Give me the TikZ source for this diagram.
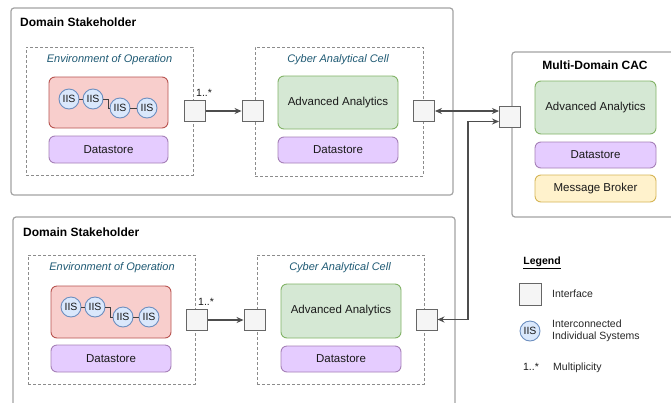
\documentclass[tikz,border=0pt]{standalone}
\usepackage{fontspec}
\setmainfont{Liberation Sans}
\usetikzlibrary{arrows.meta,calc}

\definecolor{frameGray}{HTML}{A3A3A3}
\definecolor{dashGray}{HTML}{8C8C8C}
\definecolor{ifaceFill}{HTML}{F5F5F5}
\definecolor{ifaceLine}{HTML}{666666}
\definecolor{redFill}{HTML}{F8CECC}
\definecolor{redLine}{HTML}{B85450}
\definecolor{greenFill}{HTML}{D5E8D4}
\definecolor{greenLine}{HTML}{82B366}
\definecolor{purpleFill}{HTML}{E5CCFF}
\definecolor{purpleLine}{HTML}{A680B8}
\definecolor{yellowFill}{HTML}{FFF2CC}
\definecolor{yellowLine}{HTML}{D6B656}
\definecolor{blueFill}{HTML}{DAE8FC}
\definecolor{blueLine}{HTML}{6C8EBF}
\definecolor{labelTeal}{HTML}{1F5A74}
\definecolor{wireGray}{HTML}{4D4D4D}

\tikzset{
  outerbox/.style={draw=frameGray, line width=1.2pt, rounded corners=3pt, fill=white, inner sep=0pt},
  groupbox/.style={draw=dashGray, line width=0.8pt, dash pattern=on 3pt off 2pt, inner sep=0pt},
  card/.style={rounded corners=6pt, line width=0.9pt, inner sep=0pt, text=black!90,
    font=\fontsize{11.5}{13.5}\selectfont},
  redcard/.style={card, draw=redLine, fill=redFill},
  greencard/.style={card, draw=greenLine, fill=greenFill},
  purplecard/.style={card, draw=purpleLine, fill=purpleFill},
  yellowcard/.style={card, draw=yellowLine, fill=yellowFill},
  iface/.style={draw=ifaceLine, fill=ifaceFill, line width=0.9pt, minimum size=21pt, inner sep=0pt},
  iis/.style={circle, draw=blueLine, fill=blueFill, line width=0.9pt, minimum size=20pt, inner sep=0pt,
    text=black!90, font=\fontsize{10.5}{12}\selectfont},
  titletext/.style={font=\bfseries\fontsize{12}{14}\selectfont, inner sep=0pt},
  grouptext/.style={font=\itshape\fontsize{11}{13}\selectfont, text=labelTeal, inner sep=0pt},
  plaintext/.style={font=\fontsize{10.5}{12.5}\selectfont, inner sep=0pt, text=black!85},
  multtext/.style={font=\fontsize{10.5}{12}\selectfont, inner sep=0pt, text=black!90},
  link/.style={draw=wireGray, line width=1.4pt},
  wiretip/.tip={Stealth[length=7pt,width=6pt]},
  iislink/.style={draw=black!75, line width=0.8pt}
}

\begin{document}
\begin{tikzpicture}[x=1pt,y=-1pt]
\useasboundingbox (0,0) rectangle (671,402);
\clip (0,0) rectangle (671,402);

% ---------------- upper domain stakeholder ----------------
\node[outerbox, minimum width=442pt, minimum height=187pt] (ds1) at (232,101.5) {};
\node[titletext, anchor=west] (ds1t) at (20,22.5) {Domain Stakeholder};

\node[groupbox, minimum width=167pt, minimum height=128pt] (env1) at (109.5,111) {};
\node[grouptext] (env1t) at (109.5,60) {Environment of Operation};
\node[redcard, minimum width=119pt, minimum height=51pt] (red1) at (108.5,102.5) {};
\node[iis] (a1) at (69,99) {IIS};
\node[iis] (a2) at (93,99) {IIS};
\node[iis] (a3) at (120,108) {IIS};
\node[iis] (a4) at (147,108) {IIS};
\draw[iislink] (a1) -- (a2);
\draw[iislink] (a2.east) -- ++(5,0) |- (a3.west);
\draw[iislink] (a3) -- (a4);
\node[purplecard, minimum width=119pt, minimum height=27pt] (eds1) at (108.5,149.5) {Datastore};

\node[groupbox, minimum width=168pt, minimum height=129pt] (cac1) at (339,111.5) {};
\node[grouptext] (cac1t) at (338,60) {Cyber Analytical Cell};
\node[greencard, minimum width=120pt, minimum height=53pt] (aa1) at (338,102.5) {Advanced Analytics};
\node[purplecard, minimum width=120pt, minimum height=26pt] (cds1) at (338,150) {Datastore};

% interfaces sit on top of the dashed group borders
\node[iface] (ia1) at (195,111) {};
\node[multtext, anchor=south west] (m1) at (196,96.5) {1..*};
\node[iface] (ib1) at (252.5,111) {};
\node[iface] (ic1) at (424,111) {};

% ---------------- multi-domain CAC ----------------
\node[outerbox, minimum width=168pt, minimum height=165pt] (md) at (596,134.5) {};
\node[titletext] (mdt) at (595,65) {Multi-Domain CAC};
\node[greencard, minimum width=121pt, minimum height=53pt] (mdaa) at (595.5,107.5) {Advanced Analytics};
\node[purplecard, minimum width=121pt, minimum height=26pt] (mdds) at (595.5,155) {Datastore};
\node[yellowcard, minimum width=121pt, minimum height=27pt] (mdmb) at (595.5,188.5) {Message Broker};
\node[iface] (mdi) at (509.5,116.5) {};
\coordinate (mdin1) at (499,111);
\coordinate (mdin2) at (499,121.5);
\coordinate (bend) at (468,121.5);

% ---------------- lower domain stakeholder ----------------
\node[outerbox, minimum width=442pt, minimum height=193pt] (ds2) at (234,313.5) {};
\node[titletext, anchor=west] (ds2t) at (23,232) {Domain Stakeholder};

\node[groupbox, minimum width=167pt, minimum height=129pt] (env2) at (111.5,319.5) {};
\node[grouptext] (env2t) at (112,268) {Environment of Operation};
\node[redcard, minimum width=120pt, minimum height=52pt] (red2) at (111,312) {};
\node[iis] (b1) at (71,307) {IIS};
\node[iis] (b2) at (95,307) {IIS};
\node[iis] (b3) at (123,317) {IIS};
\node[iis] (b4) at (149,317) {IIS};
\draw[iislink] (b1) -- (b2);
\draw[iislink] (b2.east) -- ++(5,0) |- (b3.west);
\draw[iislink] (b3) -- (b4);
\node[purplecard, minimum width=120pt, minimum height=27pt] (eds2) at (111,358.5) {Datastore};

\node[groupbox, minimum width=167pt, minimum height=129pt] (cac2) at (340.5,319.5) {};
\node[grouptext] (cac2t) at (340,268) {Cyber Analytical Cell};
\node[greencard, minimum width=120pt, minimum height=54pt] (aa2) at (341,311) {Advanced Analytics};
\node[purplecard, minimum width=120pt, minimum height=26pt] (cds2) at (341,359) {Datastore};

\node[iface] (ia2) at (197,320) {};
\node[multtext, anchor=south west] (m2) at (198,305.5) {1..*};
\node[iface] (ib2) at (254.5,319.5) {};
\node[iface] (ic2) at (426.5,319.5) {};

% ---------------- connectors ----------------
\draw[link, -{wiretip}] (ia1.east) -- (ib1.west);
\draw[link, -{wiretip}] (ia2.east) -- (ib2.west |- ia2.east);
\draw[link, {wiretip}-{wiretip}] (ic1.east) -- (mdin1);
\draw[link, {wiretip}-{wiretip}] (ic2.east) -| (bend) -- (mdin2);

% ---------------- legend ----------------
\node[font=\bfseries\fontsize{10.5}{12.5}\selectfont, inner sep=0pt] (lg) at (542,263) {\underline{Legend}};
\node[iface, minimum size=22pt] (lgi) at (530,294) {};
\node[plaintext, anchor=west] (lgit) at (552,294) {Interface};
\node[iis] (lgc) at (530,331) {IIS};
\node[plaintext, anchor=west, align=left] (lgct) at (552,331) {Interconnected\\Individual Systems};
\node[multtext] (lgm) at (531,367) {1..*};
\node[plaintext, anchor=west] (lgmt) at (553,368) {Multiplicity};
\end{tikzpicture}
\end{document}
